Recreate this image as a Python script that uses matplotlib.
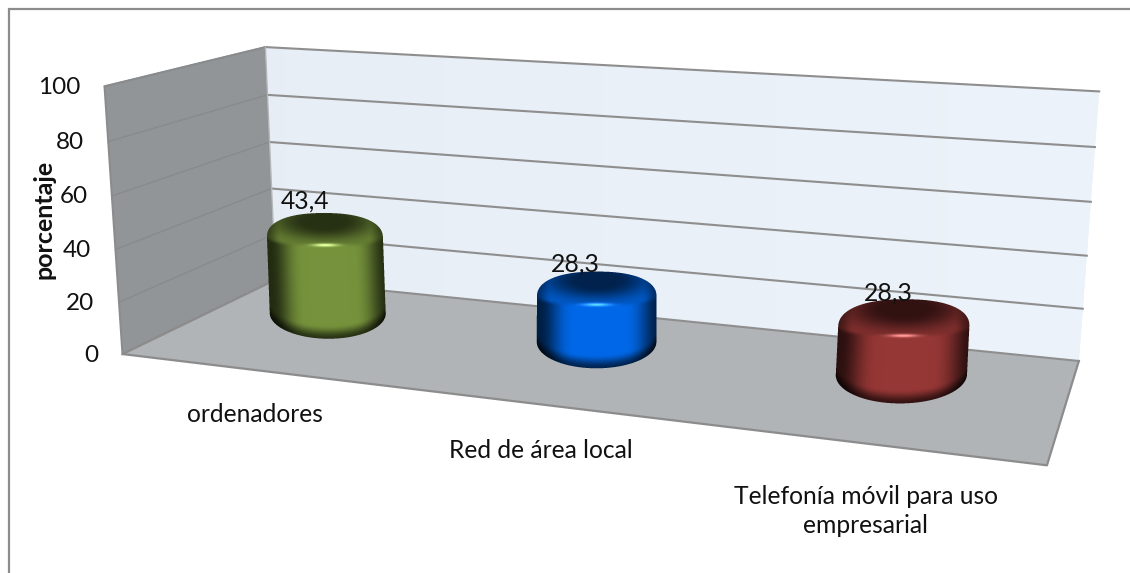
import numpy as np
import matplotlib
matplotlib.use('Agg')
import matplotlib.pyplot as plt
from matplotlib.patches import Polygon

categories = ['ordenadores', 'Red de área local', 'Telefonía móvil para uso\nempresarial']
values = [43.4, 28.3, 28.3]
value_labels = ['43,4', '28,3', '28,3']
ticks = [0, 20, 40, 60, 80, 100]
axis_title = 'porcentaje'
bar_colors = ['#76933c', '#0068e8', '#953735']

# layout in pixels of the 1130x573 picture
W, H = 1130, 573
cat_pos = [0.136, 0.478, 0.825]
bar_depth = 0.66
bar_halfwidth = [0.0778, 0.0721, 0.0705]
bar_height_scale = 0.89
bar_cap_allowance = 8.2  # part of the value taken up by the rounded cap
cat_label_xy = [(255, 414), (541, 450), (866, 511)]
value_label_off = [(-20, -12), (-21, -7), (-15, -6)]

# corners of the box: (x, depth, value/100) -> picture pixels
corners = [
    ((0, 0, 0), (123, 352)), ((1, 0, 0), (1047, 467)),
    ((0, 1, 0), (275, 282)), ((1, 1, 0), (1079, 359)),
    ((0, 0, 1), (104, 87)), ((0, 1, 1), (266, 46)), ((1, 1, 1), (1099, 92)),
]


def fit_projection(pairs):
    A, b = [], []
    for (x, d, z), (px, py) in pairs:
        A.append([x, d, z, 1, 0, 0, 0, 0, -px * x, -px * d, -px * z])
        b.append(px)
        A.append([0, 0, 0, 0, x, d, z, 1, -py * x, -py * d, -py * z])
        b.append(py)
    m = np.linalg.lstsq(np.array(A, float), np.array(b, float), rcond=None)[0]
    return np.append(m, 1).reshape(3, 4)


P = fit_projection(corners)


def project(x, d, v):
    q = P @ np.array([x, d, v / 100, 1.0])
    return q[0] / q[2], q[1] / q[2]


def smooth(a, b, t):
    s = np.clip((t - a) / (b - a), 0, 1)
    return s * s * (3 - 2 * s)


def cyl_geometry(x, value, hw):
    base = project(x, bar_depth, 0)
    top = project(x, bar_depth, (value - bar_cap_allowance) * bar_height_scale)
    a = (project(x + hw, bar_depth, 0)[0] - project(x - hw, bar_depth, 0)[0]) / 2
    return base, top, a


def draw_cylinder(ax, x, value, hw, color):
    base, top, a = cyl_geometry(x, value, hw)
    back, front, bb = 0.42 * a, 0.15 * a, 0.44 * a
    x0, x1 = int(min(base[0], top[0]) - a - 4), int(max(base[0], top[0]) + a + 5)
    y0, y1 = int(top[1] - back - 4), int(base[1] + bb + 5)
    ss = 4
    xs = x0 + (np.arange((x1 - x0) * ss) + 0.5) / ss
    ys = y0 + (np.arange((y1 - y0) * ss) + 0.5) / ss
    X, Y = np.meshgrid(xs, ys)
    cx = top[0] + (base[0] - top[0]) * (Y - top[1]) / (base[1] - top[1])
    u = (X - cx) / a
    au = np.clip(np.abs(u), 0, 1)
    y_top = top[1] - back * (1 - au ** 2.3) ** (1 / 2.3)
    y_rim = top[1] + front * np.sqrt(1 - au ** 2)
    y_bot = base[1] + bb * (1 - au ** 2.0) ** (1 / 2.0)
    inside = (np.abs(u) <= 1) & (Y >= y_top) & (Y <= y_bot)

    # side
    side = 1 - 0.7 * smooth(0.35, 1.0, np.abs(u - 0.05)) ** 1.6
    side = side * (1 - 0.65 * (1 - smooth(0, 14, y_bot - Y)))
    # top face: dark hollow, lighter towards the rim
    yh = top[1] - 0.65 * back
    r = np.sqrt((u / 0.6) ** 2 + ((Y - yh) / (0.5 * back)) ** 2)
    face = 0.33 + 0.5 * smooth(0.5, 2.0, r)
    face = face * (1 - 0.45 * smooth(0.75, 1.0, np.abs(u)))
    w = smooth(-3, 3, Y - y_rim)
    shade = face * (1 - w) + side * w
    rgb = np.array(matplotlib.colors.to_rgb(color))
    img = shade[..., None] * rgb
    # highlight on the front rim
    g = np.exp(-(u / 0.22) ** 2 - ((Y - (top[1] + front - 1)) / 1.6) ** 2)[..., None]
    img = img + g * (0.45 * rgb + 0.4) * 0.9
    rgba = np.dstack([np.clip(img, 0, 1), inside.astype(float)])
    n, m = rgba.shape[:2]
    rgba = rgba.reshape(n // ss, ss, m // ss, ss, 4).mean(axis=(1, 3))
    ax.imshow(rgba, extent=(x0, x1, y1, y0), aspect='auto', interpolation='nearest', zorder=4)


fig = plt.figure(figsize=(W / 100, H / 100), dpi=100)
ax = fig.add_axes([0, 0, 1, 1])
ax.axis('off')
plt.rcParams['font.family'] = ['Lato', 'DejaVu Sans']

# chart frame
ax.plot([8.5, 8.5, W], [H, 9, 9], color='#8c8c8c', lw=1.6, solid_joinstyle='miter', zorder=1)

# walls and floor
left_wall = [project(0, 0, 0), project(0, 0, 100), project(0, 1, 100), project(0, 1, 0)]
back_wall = [project(0, 1, 0), project(0, 1, 100), project(1, 1, 100), project(1, 1, 0)]
floor = [project(0, 0, 0), project(1, 0, 0), project(1, 1, 0), project(0, 1, 0)]

ax.add_patch(Polygon(left_wall, closed=True, fc='#929598', ec='#8c8c8c', lw=1.5, zorder=2))
back_patch = Polygon(back_wall, closed=True, fc='#e9f0f7', ec='none', zorder=2)
ax.add_patch(back_patch)
grad = np.linspace(0, 1, 64).reshape(1, -1, 1)
back_img = (1 - grad) * np.array([0.906, 0.933, 0.961]) + grad * np.array([0.925, 0.953, 0.98])
im = ax.imshow(back_img, extent=(260, 1105, 365, 40), aspect='auto', zorder=2)
im.set_clip_path(back_patch)
ax.add_patch(Polygon(floor, closed=True, fc='#b0b4b7', ec='none', zorder=2.5))

# gridlines on both walls
for t in ticks:
    p0, p1, p2 = project(0, 0, t), project(0, 1, t), project(1, 1, t)
    ax.plot([p0[0], p1[0]], [p0[1], p1[1]], color='#888b8e', lw=1.0, zorder=3)
    ax.plot([p1[0], p2[0]], [p1[1], p2[1]], color='#8e8e8e', lw=1.5, zorder=3)
    ax.text(p0[0] - 24.5, p0[1] + 1, str(t), ha='right', va='center', fontsize=17.5, color='#111111', zorder=6)
ax.plot([project(0, 1, 0)[0], project(0, 1, 100)[0]], [project(0, 1, 0)[1], project(0, 1, 100)[1]],
        color='#b4b7ba', lw=1, zorder=3)
edge = [project(0, 1, 0), project(0, 0, 0), project(1, 0, 0), project(1, 1, 0)]
ax.plot(*zip(*edge), color='#8c8c8c', lw=1.6, zorder=3)

for x, v, hw, c in zip(cat_pos, values, bar_halfwidth, bar_colors):
    draw_cylinder(ax, x, v, hw, c)

for x, v, hw, lab, off in zip(cat_pos, values, bar_halfwidth, value_labels, value_label_off):
    base, top, a = cyl_geometry(x, v, hw)
    ax.text(top[0] + off[0], top[1] - 0.42 * a + off[1], lab, ha='center', va='center',
            fontsize=17.8, color='#111111', zorder=6)

for lab, xy in zip(categories, cat_label_xy):
    ax.text(xy[0], xy[1], lab, ha='center', va='center', fontsize=17.7, color='#111111',
            linespacing=1.35, zorder=6)

ax.text(44, 219, axis_title, rotation=90, ha='center', va='center', fontsize=18,
        fontweight='bold', color='#111111', zorder=6)

ax.set_xlim(0, W)
ax.set_ylim(H, 0)
fig.savefig('out.png', dpi=100)
